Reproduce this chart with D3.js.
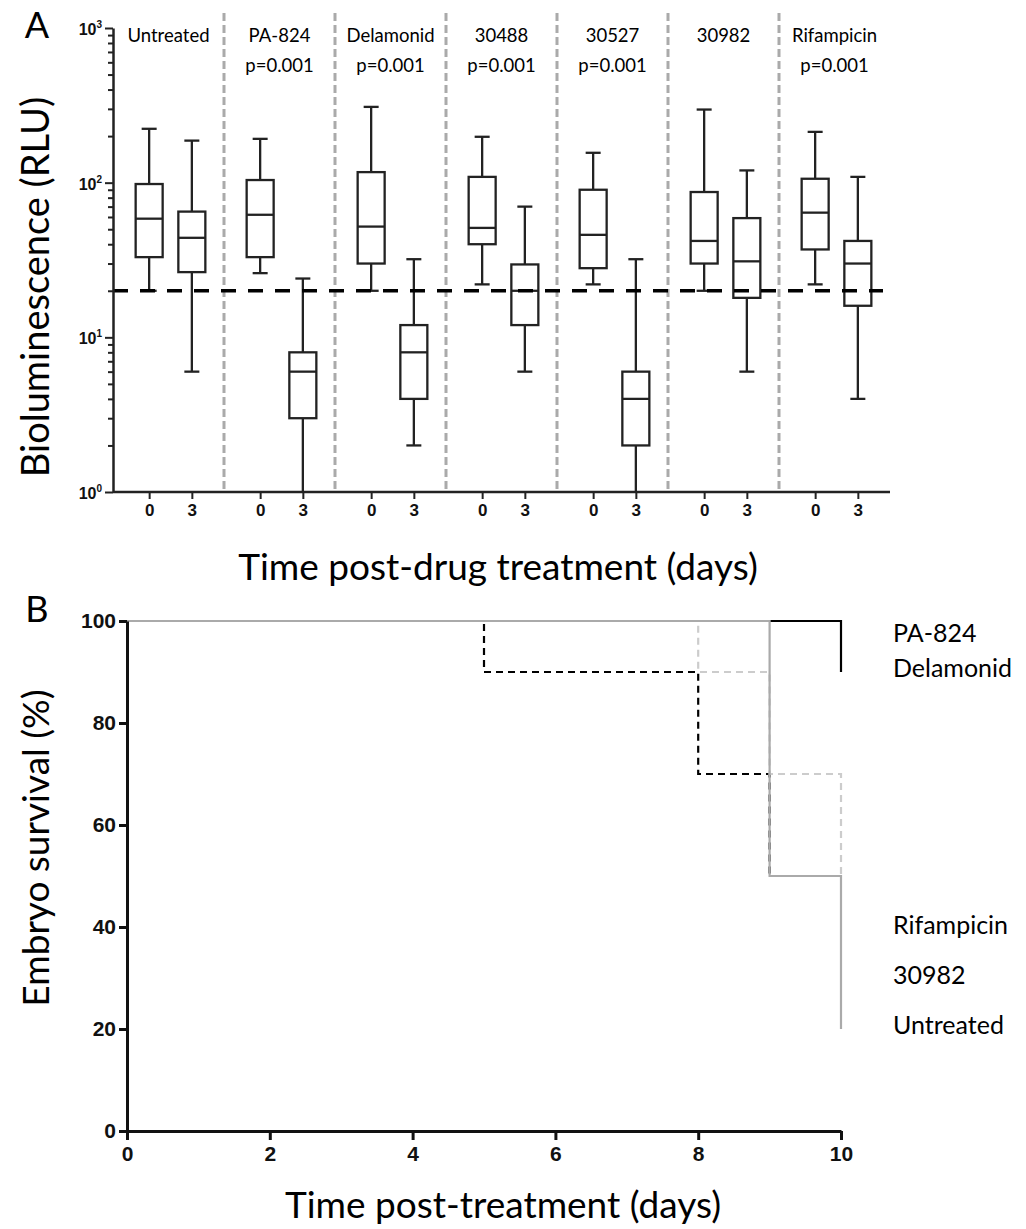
<!DOCTYPE html>
<html>
<head>
<meta charset="utf-8">
<script src="https://cdn.jsdelivr.net/npm/d3@7"></script>
<style>
  body { margin: 0; background: #fff; }
  svg { display: block; }
  .lab { font-family: Lato, "Open Sans", sans-serif; fill: #000; }
  .tk text { font-family: "Liberation Sans", Arial, sans-serif; font-weight: bold; fill: #111; }
</style>
</head>
<body>
<div id="chart"></div>
<script>
// panel A: treatment groups and days
const groups = ["Untreated", "PA-824", "Delamonid", "30488", "30527", "30982", "Rifampicin"]
const pLabels = ["", "p=0.001", "p=0.001", "p=0.001", "p=0.001", "", "p=0.001"]
const days = ["0", "3"]
// box stats per group: [low whisker, q1, median, q3, high whisker]
const day0Stats = [
  [20, 33, 58.5, 98, 223],
  [26, 33, 62, 104, 192],
  [20, 30, 52, 117, 309],
  [22, 40, 51, 109, 198],
  [22, 28, 46, 90, 156],
  [20, 30, 42, 87, 297],
  [22, 37, 64, 106, 213]
]
const day3Stats = [
  [6, 26.4, 44, 65, 187],
  [1, 3, 6, 8, 24],
  [2, 4, 8, 12, 32],
  [6, 12, 20, 29.6, 70],
  [1, 2, 4, 6, 32],
  [6, 18, 31, 59, 120],
  [4, 16, 30, 42, 109]
]
const threshold = 20
const logTicks = [1, 10, 100, 1000]

// panel B: survival curves (step points, day / percent)
const survPA824 = [[0, 100], [10, 90]]
const survDelamonid = [[0, 100], [10, 100]]
const survUntreated = [[0, 100], [5, 90], [8, 70], [9, 50], [10, 50]]
const surv30982 = [[0, 100], [8, 90], [9, 70], [10, 50]]
const survRifampicin = [[0, 100], [9, 50], [10, 20]]
const dayTicks = [0, 2, 4, 6, 8, 10]
const pctTicks = [0, 20, 40, 60, 80, 100]
const rightLabels = ["PA-824", "Delamonid", "Rifampicin", "30982", "Untreated"]

const width = 1026
const height = 1229

const svg = d3.select("#chart")
  .append("svg")
  .attr("width", width)
  .attr("height", height)

// ---------- panel A ----------
const yA = d3.scaleLog().domain([1, 1000]).range([492, 28])
const xGroup = d3.scaleBand().domain(groups).range([113, 890])
const bw = xGroup.bandwidth()
const xDay = d3.scalePoint().domain(days).range([2, bw + 2]).padding(0.8)
const boxW = 27
const capW = 15

// group separators
svg.append("g")
  .selectAll("line")
  .data(groups.slice(1))
  .join("line")
  .attr("x1", d => xGroup(d))
  .attr("x2", d => xGroup(d))
  .attr("y1", 13)
  .attr("y2", 490)
  .attr("stroke", "#aaa")
  .attr("stroke-width", 3)
  .attr("stroke-dasharray", "8,4")

// group titles
const titles = svg.append("g").attr("class", "lab").attr("text-anchor", "middle").attr("font-size", 18.5)
titles.selectAll("text.g")
  .data(groups)
  .join("text")
  .attr("class", "g")
  .attr("x", d => xGroup(d) + bw / 2)
  .attr("y", 42)
  .text(d => d)
titles.selectAll("text.p")
  .data(pLabels)
  .join("text")
  .attr("class", "p")
  .attr("x", (d, i) => xGroup(groups[i]) + bw / 2)
  .attr("y", 72)
  .text(d => d)

// box data
const boxes = []
groups.forEach((g, i) => {
  boxes.push({ group: g, day: "0", s: day0Stats[i] })
  boxes.push({ group: g, day: "3", s: day3Stats[i] })
})
const bx = d => xGroup(d.group) + xDay(d.day)

const boxG = svg.append("g")
  .attr("stroke", "#222")
  .attr("stroke-width", 2.3)
  .attr("fill", "none")

// whiskers
boxG.selectAll("line.wh")
  .data(boxes)
  .join("line")
  .attr("class", "wh")
  .attr("x1", bx).attr("x2", bx)
  .attr("y1", d => yA(d.s[0]))
  .attr("y2", d => yA(d.s[4]))
// caps
boxG.selectAll("line.capHi")
  .data(boxes)
  .join("line")
  .attr("class", "capHi")
  .attr("x1", d => bx(d) - capW / 2).attr("x2", d => bx(d) + capW / 2)
  .attr("y1", d => yA(d.s[4])).attr("y2", d => yA(d.s[4]))
boxG.selectAll("line.capLo")
  .data(boxes.filter(d => d.s[0] > 1))
  .join("line")
  .attr("class", "capLo")
  .attr("x1", d => bx(d) - capW / 2).attr("x2", d => bx(d) + capW / 2)
  .attr("y1", d => yA(d.s[0])).attr("y2", d => yA(d.s[0]))
// boxes
boxG.selectAll("rect")
  .data(boxes)
  .join("rect")
  .attr("x", d => bx(d) - boxW / 2)
  .attr("width", boxW)
  .attr("y", d => yA(d.s[3]))
  .attr("height", d => yA(d.s[1]) - yA(d.s[3]))
  .attr("fill", "#fff")
// medians
boxG.selectAll("line.med")
  .data(boxes)
  .join("line")
  .attr("class", "med")
  .attr("x1", d => bx(d) - boxW / 2).attr("x2", d => bx(d) + boxW / 2)
  .attr("y1", d => yA(d.s[2])).attr("y2", d => yA(d.s[2]))

// threshold line
svg.append("line")
  .attr("x1", 113).attr("x2", 883)
  .attr("y1", yA(threshold)).attr("y2", yA(threshold))
  .attr("stroke", "#000")
  .attr("stroke-width", 3.5)
  .attr("stroke-dasharray", "15,12")

// y axis A: minor ticks then major
const minor = yA.ticks().filter(v => !logTicks.includes(v))
svg.append("g")
  .attr("class", "tk")
  .attr("transform", "translate(113,0)")
  .call(d3.axisLeft(yA).tickValues(minor).tickSize(5).tickSizeOuter(0).tickFormat(""))
  .call(g => g.select(".domain").remove())
  .selectAll("line").attr("stroke", "#222").attr("stroke-width", 2)

const yAxisA = svg.append("g")
  .attr("class", "tk")
  .attr("transform", "translate(113,0)")
  .call(d3.axisLeft(yA).tickValues(logTicks).tickSize(8).tickSizeOuter(0).tickPadding(3).tickFormat(""))
yAxisA.select(".domain").attr("stroke", "#222").attr("stroke-width", 2.5)
yAxisA.selectAll("line").attr("stroke", "#222").attr("stroke-width", 2)
yAxisA.selectAll(".tick text")
  .attr("font-size", 16)
  .attr("dy", "0.4em")
  .each(function(d) {
    const t = d3.select(this)
    t.append("tspan").text("10")
    t.append("tspan").attr("font-size", 10).attr("dy", "-0.7em").text(Math.round(Math.log10(d)))
  })

// x axis A
const xTickA = svg.append("g")
  .attr("class", "tk")
  .attr("transform", "translate(0,492)")
xTickA.append("line")
  .attr("x1", 113).attr("x2", 890)
  .attr("stroke", "#222").attr("stroke-width", 2.5)
groups.forEach(g => {
  const ax = d3.axisBottom(d3.scalePoint().domain(days).range([xGroup(g) + xDay("0"), xGroup(g) + xDay("3")]))
    .tickSize(7).tickSizeOuter(0).tickPadding(5)
  const gg = xTickA.append("g").call(ax)
  gg.select(".domain").remove()
  gg.selectAll("line").attr("stroke", "#222").attr("stroke-width", 2)
  gg.selectAll("text").attr("font-size", 17)
})

// titles A
svg.append("text").attr("class", "lab")
  .attr("x", 37).attr("y", 38).attr("text-anchor", "middle")
  .attr("font-size", 36).text("A")
svg.append("text").attr("class", "lab")
  .attr("transform", "translate(49,287) rotate(-90)")
  .attr("text-anchor", "middle").attr("font-size", 38)
  .text("Bioluminescence (RLU)")
svg.append("text").attr("class", "lab")
  .attr("x", 498).attr("y", 580).attr("text-anchor", "middle")
  .attr("font-size", 37).text("Time post-drug treatment (days)")

// ---------- panel B ----------
const xB = d3.scaleLinear().domain([0, 10]).range([127, 841])
const yB = d3.scaleLinear().domain([0, 100]).range([1131, 621])
const line = d3.line().x(d => xB(d[0])).y(d => yB(d[1])).curve(d3.curveStepAfter)

const curves = [
  { data: survPA824, color: "#000", dash: null },
  { data: survDelamonid, color: "#000", dash: null },
  { data: survUntreated, color: "#000", dash: "7,5" },
  { data: surv30982, color: "#ccc", dash: "7,5" },
  { data: survRifampicin, color: "#aaa", dash: null }
]
svg.append("g")
  .selectAll("path")
  .data(curves)
  .join("path")
  .attr("d", d => line(d.data))
  .attr("fill", "none")
  .attr("stroke", d => d.color)
  .attr("stroke-width", 2.2)
  .attr("stroke-dasharray", d => d.dash)

const xAxisB = svg.append("g").attr("class", "tk")
  .attr("transform", "translate(0,1131)")
  .call(d3.axisBottom(xB).tickValues(dayTicks).tickSize(9).tickSizeOuter(0).tickPadding(6))
xAxisB.select(".domain").attr("stroke", "#111").attr("stroke-width", 3)
xAxisB.selectAll("line").attr("stroke", "#111").attr("stroke-width", 3)
xAxisB.selectAll("text").attr("font-size", 21)

const yAxisB = svg.append("g").attr("class", "tk")
  .attr("transform", "translate(127,0)")
  .call(d3.axisLeft(yB).tickValues(pctTicks).tickSize(8).tickSizeOuter(0).tickPadding(3))
yAxisB.select(".domain").attr("stroke", "#111").attr("stroke-width", 3)
yAxisB.selectAll("line").attr("stroke", "#111").attr("stroke-width", 3)
yAxisB.selectAll("text").attr("font-size", 21)

// series labels at right
const labelY = [642, 677, 934, 984, 1034]
svg.append("g").attr("class", "lab")
  .selectAll("text")
  .data(rightLabels)
  .join("text")
  .attr("x", 893)
  .attr("y", (d, i) => labelY[i])
  .attr("font-size", 25)
  .text(d => d)

svg.append("text").attr("class", "lab")
  .attr("x", 37).attr("y", 622).attr("text-anchor", "middle")
  .attr("font-size", 36).text("B")
svg.append("text").attr("class", "lab")
  .attr("transform", "translate(49,848) rotate(-90)")
  .attr("text-anchor", "middle").attr("font-size", 37)
  .text("Embryo survival (%)")
svg.append("text").attr("class", "lab")
  .attr("x", 503).attr("y", 1218).attr("text-anchor", "middle")
  .attr("font-size", 37).text("Time post-treatment (days)")
</script>
</body>
</html>
